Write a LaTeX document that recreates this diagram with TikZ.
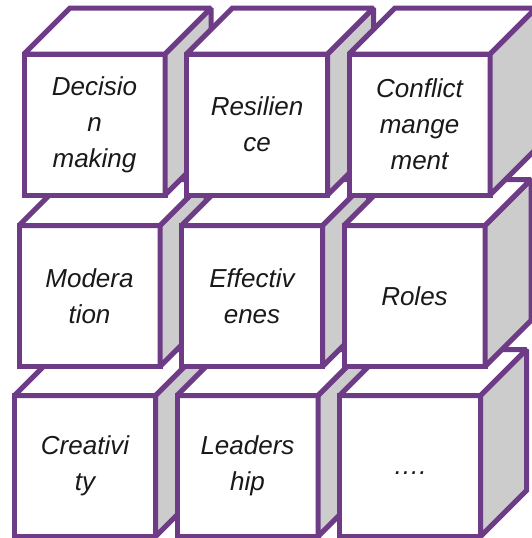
\documentclass[tikz,border=0pt]{standalone}
\usepackage{fontspec}
\setmainfont{Liberation Sans}

\definecolor{cubeline}{RGB}{110,60,134}
\definecolor{cubeside}{RGB}{204,204,204}

\tikzset{
	face/.style={draw=cubeline, line width=5pt, fill=white, anchor=north west,
		minimum width=141pt, minimum height=141pt, inner sep=0pt, outer sep=0pt,
		align=center, text=black!90, font=\fontsize{26}{36}\selectfont\itshape},
	topface/.style={draw=cubeline, line width=5pt, fill=white, miter limit=2},
	sideface/.style={draw=cubeline, line width=5pt, fill=cubeside, miter limit=2},
}

\begin{document}
\begin{tikzpicture}[x=1pt, y=-1pt]
	\def\d{46}
	\def\s{141}
	\useasboundingbox (0,0) rectangle (531,538);
	
	%Wuerfel, untere Reihe zuerst
	\foreach \n/\x/\y/\txt in {
			creativity/14.5/395.5/{Creativi\\ty},
			leadership/177/395.5/{Leaders\\hip},
			more/339.5/395.5/{\vphantom{R}….},
			moderation/19/225.5/{Modera\\tion},
			effectiveness/181.5/225.5/{Effectiv\\enes},
			roles/344/225.5/{Roles},
			decision/24/54/{Decisio\\n\\making},
			resilience/186.5/54/{Resilien\\ce},
			conflict/349/54/{Conflict\\mange\\ment}}
	{
		\node[face] (\n) at (\x,\y) {\txt};
		\draw[sideface] (\n.north east) -- ++(\d,-\d) -- ++(0,\s) -- (\n.south east) -- cycle;
		\draw[topface] (\n.north west) -- ++(\d,-\d) -- ++(\s,0) -- (\n.north east) -- cycle;
	}
\end{tikzpicture}
\end{document}
